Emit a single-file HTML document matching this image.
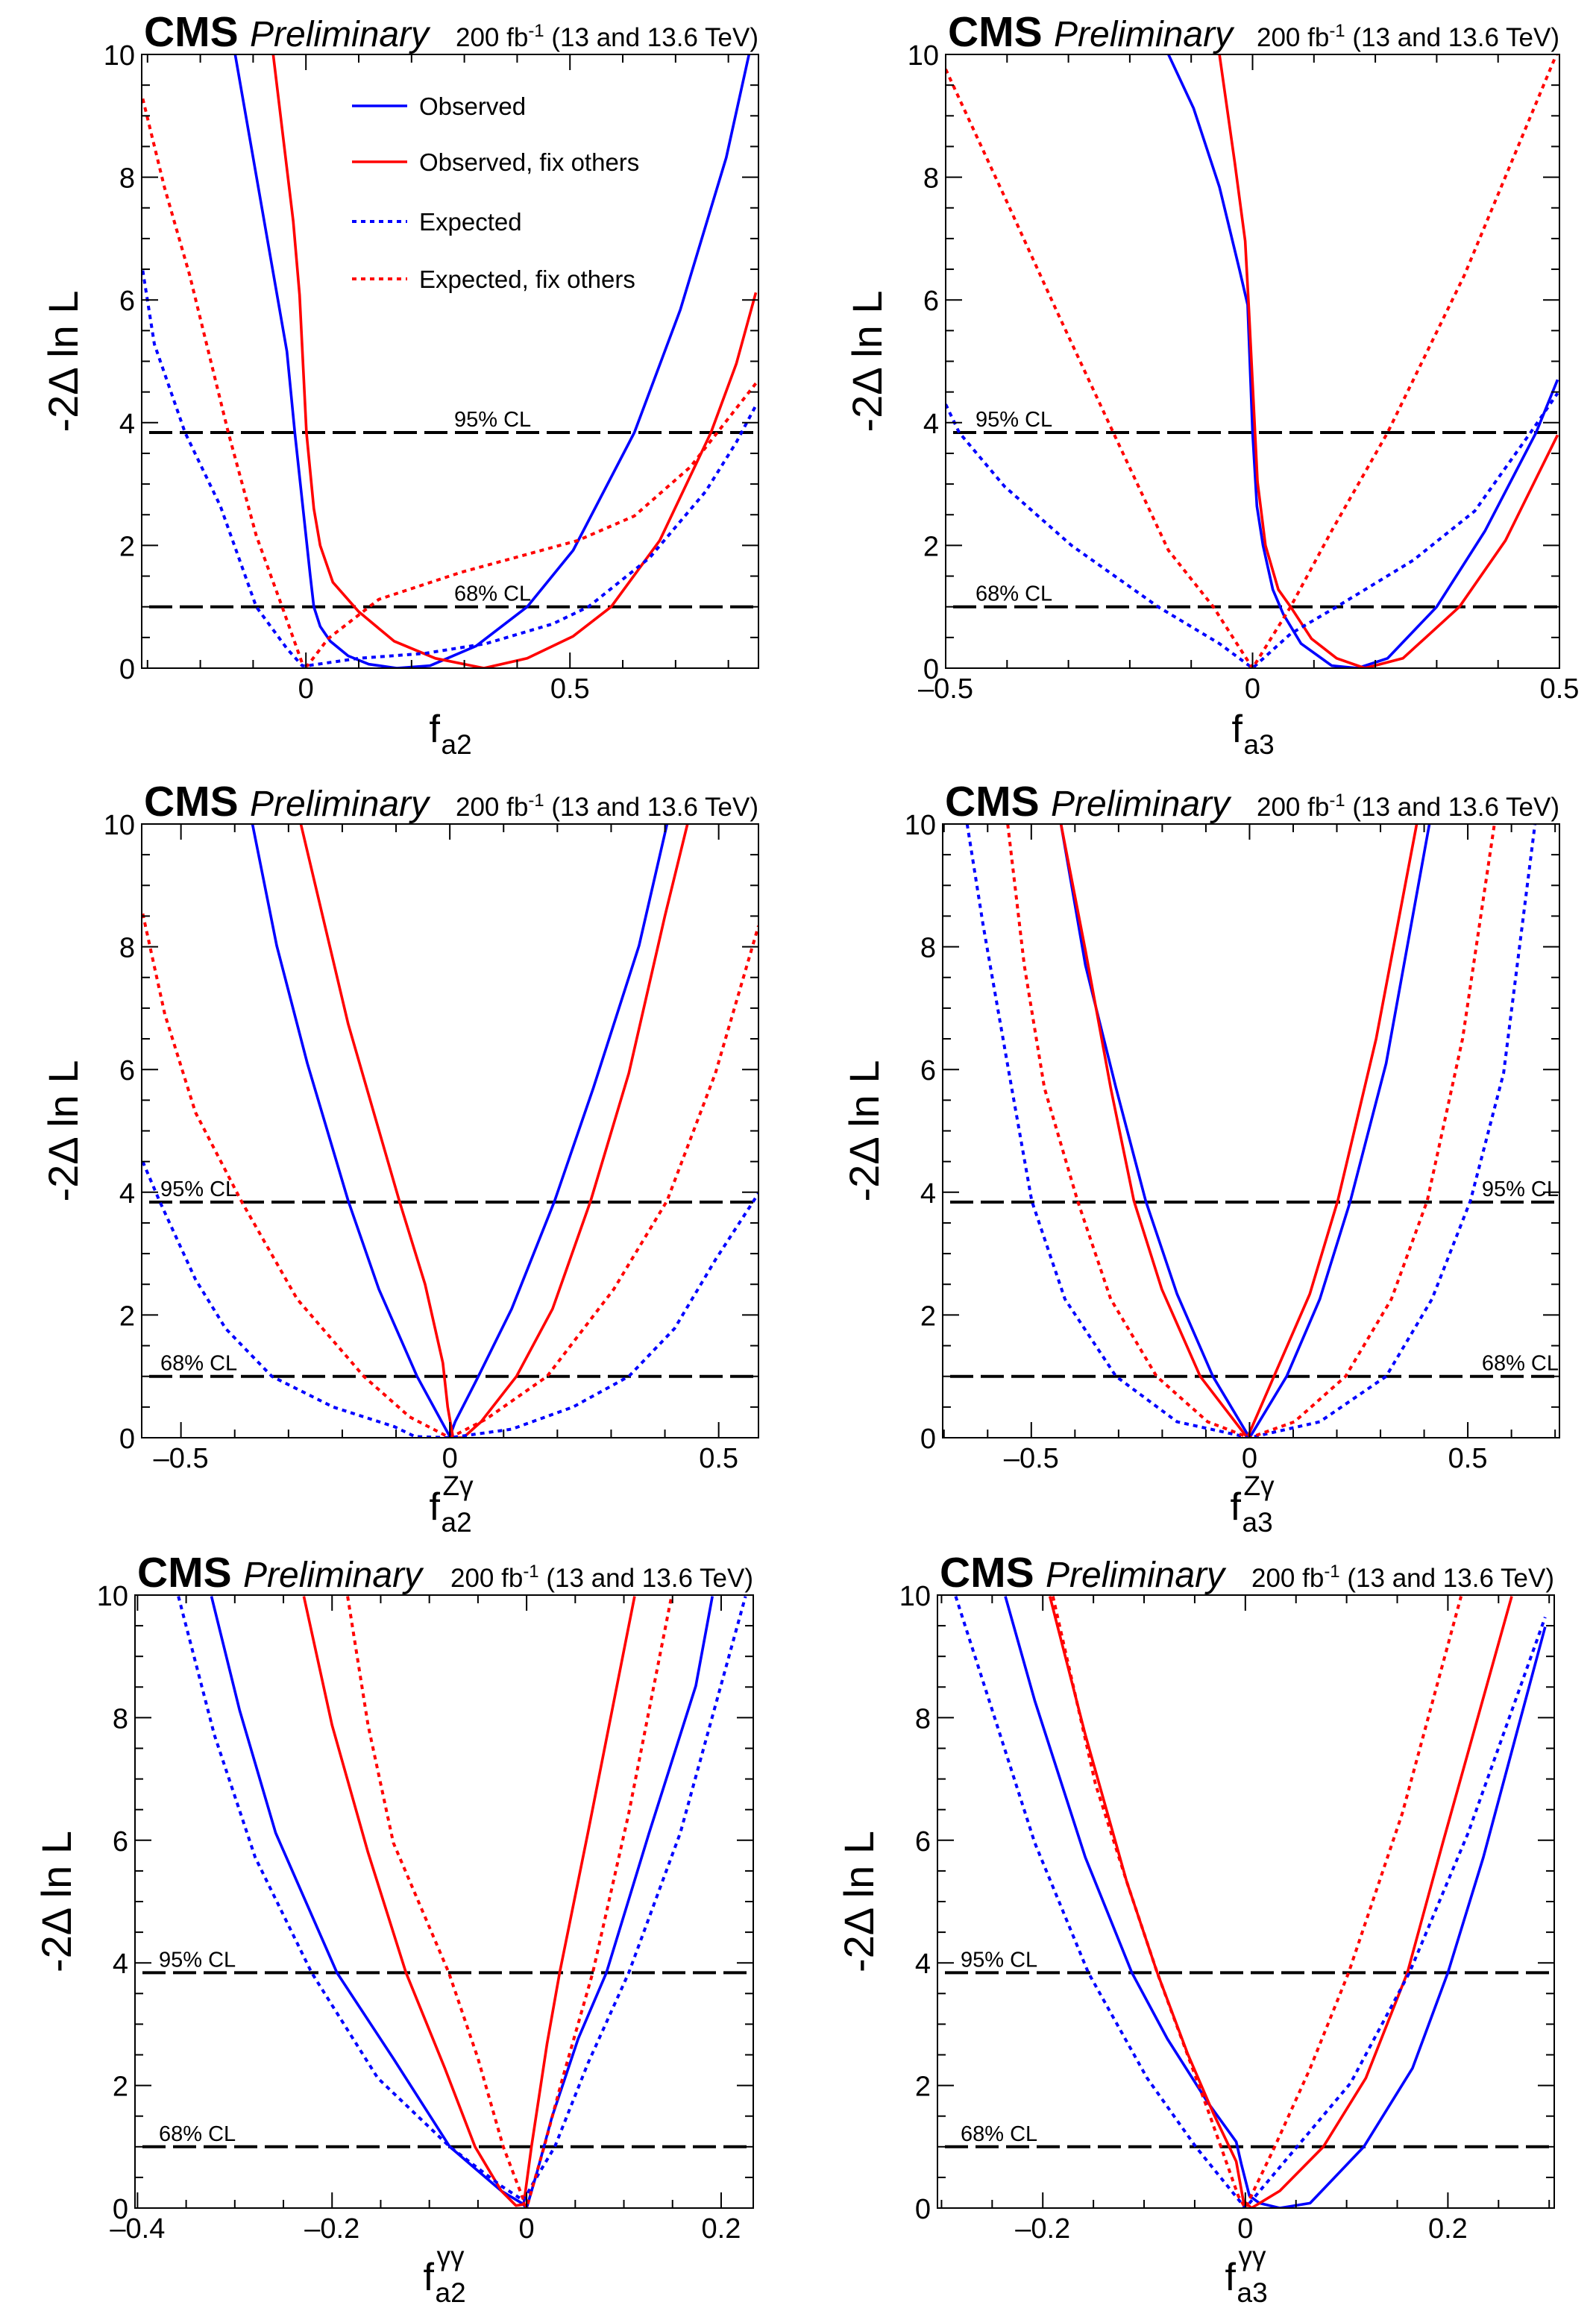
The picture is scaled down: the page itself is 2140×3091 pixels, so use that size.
<!DOCTYPE html>
<html><head><meta charset="utf-8"><style>
html,body{margin:0;padding:0;background:#fff;}
svg{display:block;font-family:"Liberation Sans","DejaVu Sans",sans-serif;}
</style></head><body>
<svg id="fig" width="2140" height="3091" viewBox="0 0 2140 3091" xmlns="http://www.w3.org/2000/svg"></svg>
<script>
// ---------- data ----------
const p1Obs=[[-0.134,10],[-0.036,5.16],[-0.021,3.84],[0.008,1.52],[0.015,1.0],[0.027,0.68],[0.046,0.44],[0.080,0.2],[0.119,0.064],[0.172,0],[0.235,0.04],[0.322,0.36],[0.419,1.0],[0.506,1.92],[0.622,3.84],[0.709,5.84],[0.796,8.32],[0.839,10]];
const p1ObsFix=[[-0.062,10],[-0.024,7.28],[-0.012,6.08],[0.001,3.84],[0.015,2.6],[0.027,2.0],[0.051,1.4],[0.1,0.92],[0.167,0.44],[0.245,0.16],[0.337,0],[0.419,0.16],[0.506,0.52],[0.578,1.0],[0.67,2.08],[0.767,3.84],[0.815,4.96],[0.852,6.12]];
const p1Exp=[[-0.309,6.48],[-0.287,5.28],[-0.229,3.84],[-0.162,2.64],[-0.094,1.0],[-0.036,0.32],[-0.007,0.04],[0.003,0.04],[0.1,0.16],[0.225,0.24],[0.341,0.4],[0.467,0.72],[0.535,1.0],[0.651,1.8],[0.757,2.88],[0.815,3.68],[0.852,4.28]];
const p1ExpFix=[[-0.309,9.28],[-0.268,7.84],[-0.22,6.4],[-0.147,3.84],[-0.094,2.16],[-0.045,1.0],[-0.007,0.08],[0.003,0.04],[0.042,0.48],[0.138,1.12],[0.293,1.56],[0.515,2.08],[0.622,2.48],[0.728,3.28],[0.852,4.64]];

const p2Obs=[[-0.137,10],[-0.096,9.12],[-0.054,7.84],[-0.021,6.48],[-0.008,5.92],[0,3.84],[0.007,2.64],[0.017,2.0],[0.033,1.28],[0.05,0.88],[0.079,0.4],[0.129,0.04],[0.171,0],[0.22,0.16],[0.3,1.0],[0.379,2.24],[0.462,3.84],[0.497,4.7]];
const p2ObsFix=[[-0.054,10],[-0.029,8.24],[-0.012,6.96],[-0.006,5.84],[0.004,3.84],[0.008,3.04],[0.021,2.0],[0.042,1.28],[0.062,1.0],[0.096,0.48],[0.137,0.16],[0.183,0],[0.245,0.16],[0.337,1.0],[0.412,2.08],[0.497,3.8]];
const p2Exp=[[-0.5,4.3],[-0.478,3.84],[-0.404,2.96],[-0.295,2.0],[-0.154,1.0],[-0.054,0.4],[0,0],[0.062,0.56],[0.137,1.0],[0.262,1.76],[0.362,2.56],[0.453,3.84],[0.497,4.48]];
const p2ExpFix=[[-0.5,9.76],[-0.404,7.68],[-0.32,5.84],[-0.227,3.84],[-0.137,1.92],[-0.064,1.0],[0,0],[0.062,1.0],[0.129,2.24],[0.22,3.84],[0.345,6.4],[0.495,10]];

const p3Obs=[[-0.367,10],[-0.322,8.02],[-0.265,6.1],[-0.189,3.86],[-0.132,2.42],[-0.061,1.0],[0,0.02],[0.01,0.26],[0.053,1.0],[0.115,2.1],[0.195,3.86],[0.267,5.7],[0.352,8.02],[0.404,10]];
const p3ObsFix=[[-0.277,10],[-0.189,6.74],[-0.094,3.86],[-0.046,2.5],[-0.013,1.22],[-0.004,0.5],[0.006,0],[0.025,0],[0.058,0.26],[0.124,1.0],[0.191,2.1],[0.262,3.86],[0.333,5.94],[0.4,8.5],[0.442,10]];
const p3Exp=[[-0.571,4.5],[-0.54,3.86],[-0.473,2.58],[-0.417,1.78],[-0.331,1.0],[-0.217,0.5],[-0.103,0.18],[-0.065,0.02],[0,0],[0.115,0.14],[0.229,0.5],[0.333,1.0],[0.418,1.78],[0.494,2.9],[0.574,3.98]];
const p3ExpFix=[[-0.571,8.54],[-0.53,6.9],[-0.473,5.3],[-0.388,3.86],[-0.284,2.26],[-0.16,1.0],[-0.075,0.34],[0,0],[0.067,0.3],[0.181,1.0],[0.305,2.42],[0.404,3.86],[0.494,5.94],[0.574,8.34]];

const p4Obs=[[-0.432,10],[-0.376,7.7],[-0.306,5.7],[-0.238,3.86],[-0.166,2.34],[-0.084,1.0],[0,0],[0.085,1.0],[0.161,2.26],[0.231,3.86],[0.313,6.1],[0.412,10]];
const p4ObsFix=[[-0.432,10],[-0.376,7.94],[-0.318,5.7],[-0.265,3.86],[-0.201,2.42],[-0.113,1.0],[-0.005,0],[0.056,1.0],[0.138,2.34],[0.202,3.86],[0.29,6.5],[0.383,10]];
const p4Exp=[[-0.647,10],[-0.61,8.34],[-0.551,5.94],[-0.499,3.86],[-0.423,2.26],[-0.306,1.0],[-0.166,0.26],[0,0],[0.161,0.26],[0.313,1.0],[0.418,2.26],[0.506,3.86],[0.582,5.94],[0.654,10]];
const p4ExpFix=[[-0.554,10],[-0.516,7.7],[-0.47,5.7],[-0.394,3.86],[-0.318,2.26],[-0.213,1.0],[-0.096,0.26],[0,0],[0.103,0.26],[0.22,1.0],[0.325,2.26],[0.407,3.86],[0.488,6.5],[0.561,10]];

const p5Obs=[[-0.324,9.98],[-0.295,8.12],[-0.258,6.12],[-0.195,3.84],[-0.137,2.44],[-0.079,1.0],[-0.026,0.28],[-0.005,0.08],[0,0],[0.011,0.6],[0.026,1.48],[0.053,2.76],[0.082,3.84],[0.126,6.12],[0.174,8.52],[0.191,9.98]];
const p5ObsFix=[[-0.229,9.98],[-0.2,7.88],[-0.163,5.8],[-0.124,3.84],[-0.084,2.28],[-0.053,1.0],[-0.026,0.28],[-0.011,0.04],[-0.003,0.06],[0.005,1.0],[0.021,2.68],[0.034,3.84],[0.063,6.12],[0.111,9.98]];
const p5Exp=[[-0.358,9.98],[-0.321,7.72],[-0.279,5.72],[-0.221,3.84],[-0.153,2.12],[-0.079,1.0],[-0.026,0.36],[-0.003,0.12],[0.005,0.36],[0.029,1.0],[0.063,2.36],[0.105,3.84],[0.158,6.12],[0.225,9.98]];
const p5ExpFix=[[-0.184,9.98],[-0.163,7.88],[-0.137,5.96],[-0.08,3.84],[-0.05,2.44],[-0.024,1.0],[0,0],[0.018,1.0],[0.037,2.12],[0.068,3.84],[0.105,6.44],[0.149,9.98]];

const p6Obs=[[-0.237,9.98],[-0.208,8.28],[-0.158,5.72],[-0.112,3.84],[-0.077,2.76],[-0.037,1.72],[-0.009,1.08],[-0.004,0.72],[0.004,0.2],[0.014,0.08],[0.034,0],[0.064,0.08],[0.117,1.0],[0.165,2.28],[0.2,3.84],[0.235,5.72],[0.296,9.48]];
const p6ObsFix=[[-0.193,9.98],[-0.158,7.72],[-0.117,5.32],[-0.087,3.84],[-0.057,2.52],[-0.032,1.56],[-0.009,0.76],[-0.002,0.12],[0.006,0],[0.034,0.28],[0.077,1.0],[0.119,2.12],[0.16,3.84],[0.195,5.96],[0.263,9.98]];
const p6Exp=[[-0.286,9.98],[-0.253,8.28],[-0.208,5.96],[-0.155,3.84],[-0.097,2.12],[-0.049,1.0],[0,0],[0.051,1.0],[0.104,2.04],[0.162,3.84],[0.22,6.12],[0.296,9.64]];
const p6ExpFix=[[-0.19,9.98],[-0.148,6.92],[-0.117,5.32],[-0.087,3.84],[-0.037,1.6],[-0.007,0.2],[0,0],[0.029,1.0],[0.064,2.28],[0.102,3.84],[0.155,6.44],[0.213,9.98]];

const yTicks=[0,2,4,6,8,10];
const clLevels=[3.84,1.0];
const clLabels=["95% CL","68% CL"];
const legendLabels=["Observed","Observed, fix others","Expected","Expected, fix others"];

// ---------- layout ----------
const NS="http://www.w3.org/2000/svg";
const svg=document.getElementById('fig');
function mk(tag,attrs,parent){const e=document.createElementNS(NS,tag);for(const k in attrs)e.setAttribute(k,attrs[k]);(parent||svg).appendChild(e);return e;}

const panels=[
 {L:190,R:1017,T:73,B:896,xmin:-0.311,xmax:0.857,major:[0,0.5],minor:0.1,series:[p1Obs,p1ObsFix,p1Exp,p1ExpFix],sub:"a2",sup:"",cl:{x:609,anchor:"start"},legend:true},
 {L:1268,R:2091,T:73,B:896,xmin:-0.5,xmax:0.5,major:[-0.5,0,0.5],minor:0.1,series:[p2Obs,p2ObsFix,p2Exp,p2ExpFix],sub:"a3",sup:"",cl:{x:1308,anchor:"start"}},
 {L:190,R:1017,T:1105,B:1928,xmin:-0.573,xmax:0.574,major:[-0.5,0,0.5],minor:0.1,series:[p3Obs,p3ObsFix,p3Exp,p3ExpFix],sub:"a2",sup:"Zγ",cl:{x:215,anchor:"start"}},
 {L:1264,R:2091,T:1105,B:1928,xmin:-0.703,xmax:0.71,major:[-0.5,0,0.5],minor:0.1,series:[p4Obs,p4ObsFix,p4Exp,p4ExpFix],sub:"a3",sup:"Zγ",cl:{x:2090,anchor:"end"}},
 {L:181,R:1010,T:2139,B:2961,xmin:-0.4026,xmax:0.233,major:[-0.4,-0.2,0,0.2],minor:0.05,series:[p5Obs,p5ObsFix,p5Exp,p5ExpFix],sub:"a2",sup:"γγ",cl:{x:213,anchor:"start"}},
 {L:1257,R:2084,T:2139,B:2961,xmin:-0.304,xmax:0.305,major:[-0.2,0,0.2],minor:0.05,series:[p6Obs,p6ObsFix,p6Exp,p6ExpFix],sub:"a3",sup:"γγ",cl:{x:1288,anchor:"start"}}
];
const styles=[
 {stroke:"#0000ff",dash:null,name:"observed-curve"},
 {stroke:"#ff0000",dash:null,name:"observed-fix-others-curve"},
 {stroke:"#0000ff",dash:"6 6",name:"expected-curve"},
 {stroke:"#ff0000",dash:"6 6",name:"expected-fix-others-curve"}
];
function fmt(v){if(v===0)return"0";let s=String(Math.abs(v));return (v<0?"\u2013":"")+s;}

panels.forEach((p,i)=>{
  const g=mk('g',{});
  
  
  const X=v=>p.L+(v-p.xmin)/(p.xmax-p.xmin)*(p.R-p.L);
  const Y=v=>p.B-v/10*(p.B-p.T);
  const cid='clip'+i;
  const cp=mk('clipPath',{id:cid},g);
  mk('rect',{x:p.L,y:p.T,width:p.R-p.L,height:p.B-p.T},cp);

  clLevels.forEach((lv,k)=>{
    const ln=mk('line',{x1:p.L+2,x2:p.R,y1:Y(lv),y2:Y(lv),stroke:"#000","stroke-width":4,"stroke-dasharray":"31 10","stroke-dashoffset":-8},g);
    
    
    const t=mk('text',{x:p.cl.x,y:Y(lv)-8,"font-size":29,"text-anchor":p.cl.anchor,fill:"#000"},g);
    t.textContent=clLabels[k];
    
    
  });

  p.series.forEach((s,k)=>{
    const st=styles[k];
    const d=s.map((pt,j)=>(j?'L':'M')+X(pt[0]).toFixed(1)+' '+Y(pt[1]).toFixed(1)).join(' ');
    const a={d:d,fill:"none",stroke:st.stroke,"stroke-width":st.dash?4:3.6,"clip-path":"url(#"+cid+")","stroke-linejoin":"round"};
    if(st.dash)a["stroke-dasharray"]=st.dash;
    const path=mk('path',a,g);
    
    
  });

  const fr=mk('rect',{x:p.L,y:p.T,width:p.R-p.L,height:p.B-p.T,fill:"none",stroke:"#000","stroke-width":2},g);
  
  

  for(let v=0;v<=10.001;v+=0.5){
    const maj=Math.abs(v/2-Math.round(v/2))<1e-6;
    const len=maj?22:11;
    mk('line',{x1:p.L,x2:p.L+len,y1:Y(v),y2:Y(v),stroke:"#000","stroke-width":2},g);
    mk('line',{x1:p.R,x2:p.R-len,y1:Y(v),y2:Y(v),stroke:"#000","stroke-width":2},g);
  }
  yTicks.forEach(v=>{
    const t=mk('text',{x:p.L-9,y:Y(v)+14,"font-size":38,"text-anchor":"end"},g);
    t.textContent=String(v);
    
    
  });
  const start=Math.ceil(p.xmin/p.minor-1e-6);
  for(let k=start;k*p.minor<=p.xmax+1e-9;k++){
    const v=k*p.minor;
    const maj=p.major.some(m=>Math.abs(m-v)<1e-6);
    const len=maj?21:11;
    mk('line',{x1:X(v),x2:X(v),y1:p.B,y2:p.B-len,stroke:"#000","stroke-width":2},g);
    mk('line',{x1:X(v),x2:X(v),y1:p.T,y2:p.T+len,stroke:"#000","stroke-width":2},g);
  }
  p.major.forEach(v=>{
    const t=mk('text',{x:X(v),y:p.B+40,"font-size":38,"text-anchor":"middle"},g);
    t.textContent=fmt(v);
    
    
  });

  const cy=(p.T+p.B)/2, bx=p.L-86;
  const yt=mk('text',{x:bx,y:cy,"font-size":56,"text-anchor":"middle",transform:"rotate(-90 "+bx+" "+cy+")"},g);
  yt.textContent="-2\u0394 ln L";
  
  

  const cx=(p.L+p.R)/2, lx=cx-28;
  const fb=p.B+(p.sup?110:99), sb=p.B+(p.sup?126:115);
  const xg=mk('g',{},g);
  
  
  mk('text',{x:lx,y:fb,"font-size":52},xg).textContent="f";
  mk('text',{x:lx+16,y:sb,"font-size":37},xg).textContent=p.sub;
  if(p.sup) mk('text',{x:lx+18,y:p.B+77,"font-size":37},xg).textContent=p.sup;

  const h1=mk('text',{x:p.L+3,y:p.T-11,"font-size":57,"font-weight":"bold"},g);
  h1.textContent="CMS";
  
  
  const h2=mk('text',{x:p.L+145,y:p.T-11,"font-size":48,"font-style":"italic"},g);
  h2.textContent="Preliminary";
  
  
  const h3=mk('text',{x:p.R,y:p.T-11,"font-size":35,"text-anchor":"end"},g);
  
  
  const a1=mk('tspan',{},h3);a1.textContent="200 fb";
  const a2=mk('tspan',{"font-size":24,dy:-13},h3);a2.textContent="-1";
  const a3=mk('tspan',{dy:13},h3);a3.textContent=" (13 and 13.6 TeV)";

  if(p.legend){
    const lg=mk('g',{},g);
    
    
    const ly=[142,217,297,374];
    legendLabels.forEach((lab,k)=>{
      const st=styles[k];
      const e=mk('g',{},lg);
      
      
      const a={x1:472,x2:546,y1:ly[k],y2:ly[k],stroke:st.stroke,"stroke-width":st.dash?4:3.6};
      if(st.dash)a["stroke-dasharray"]=st.dash;
      mk('line',a,e);
      mk('text',{x:562,y:ly[k]+12,"font-size":33},e).textContent=lab;
    });
  }
});
</script>
</body></html>
